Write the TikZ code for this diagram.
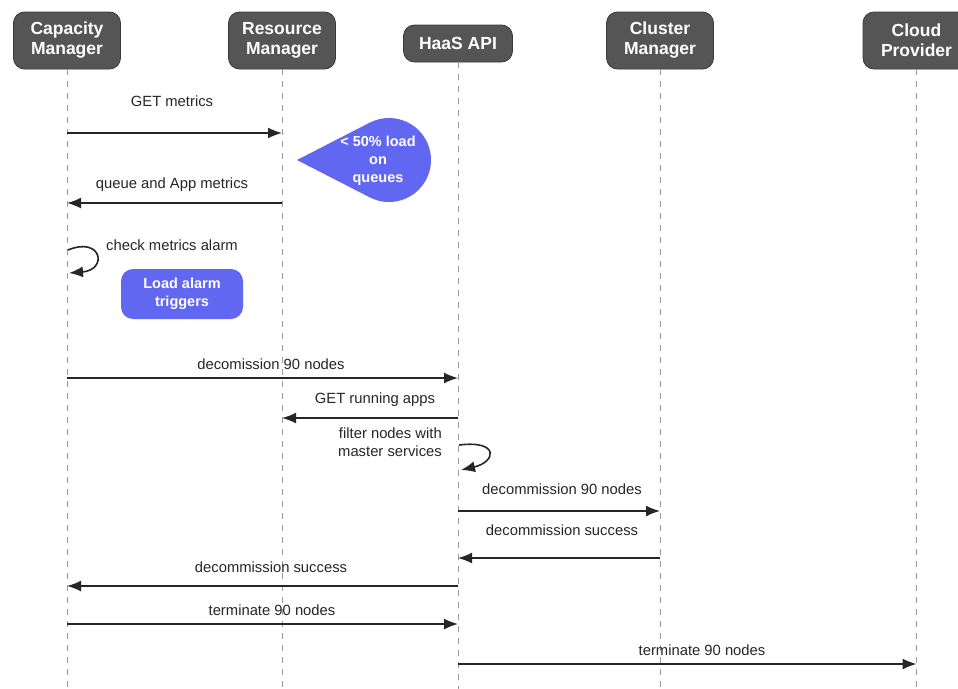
\documentclass[tikz,border=0pt]{standalone}
\usepackage{fontspec}
\setmainfont{Liberation Sans}
\usetikzlibrary{arrows.meta,calc}
\definecolor{hdr}{HTML}{555555}
\definecolor{hdrline}{HTML}{3A3A3A}
\definecolor{note}{HTML}{6267F1}
\definecolor{life}{HTML}{9A9A9A}
\definecolor{ink}{HTML}{262626}
\begin{document}
\begin{tikzpicture}[x=1pt,y=-1pt,
  actor/.style={draw=hdrline, line width=0.8pt, fill=hdr, rounded corners=11pt,
    text=white, align=center, inner sep=0pt,
    font=\fontsize{17.5}{20}\selectfont\bfseries},
  lifeline/.style={draw=life, line width=1pt, dash pattern=on 6pt off 6pt},
  msg/.style={draw=ink, line width=1.6pt, -{Latex[length=14pt,width=11pt]}},
  lbl/.style={text=ink, inner sep=0pt, font=\fontsize{14.8}{18}\selectfont},
  notetext/.style={text=white, align=center, inner sep=0pt,
    font=\fontsize{14.5}{18}\selectfont\bfseries},
  notebox/.style={fill=note, rounded corners=12pt, minimum width=122pt,
    minimum height=50pt, notetext}
]
\useasboundingbox (0,0) rectangle (958,688);
\clip (0,0) rectangle (958,688);
\fill[white] (0,0) rectangle (958,688);

% participants
\node[actor, minimum width=107pt, minimum height=57pt] (cap) at (67,40.5) {Capacity\\Manager};
\node[actor, minimum width=107pt, minimum height=57pt] (res) at (282,40.5) {Resource\\Manager};
\node[actor, minimum width=109pt, minimum height=37pt] (haas) at (458,43.5) {HaaS API};
\node[actor, minimum width=107pt, minimum height=57pt] (clu) at (660,40.5) {Cluster\\Manager};
\node[actor, minimum width=107pt, minimum height=57pt] (clo) at (916.5,40.5) {Cloud\\Provider};

% lifelines
\coordinate (bottom) at (0,690);
\foreach \p in {cap,res,haas,clu,clo}
  \draw[lifeline] (\p.south) -- (\p.south |- bottom);

% message anchor points on the lifelines
\coordinate (c1) at (cap |- 0,133);  \coordinate (r1) at (res |- 0,133);
\coordinate (c2) at (cap |- 0,203);  \coordinate (r2) at (res |- 0,203);
\coordinate (c3a) at (68,250);       \coordinate (c3b) at (69,273);
\coordinate (c4) at (cap |- 0,378);  \coordinate (h4) at (haas |- 0,378);
\coordinate (h5) at (haas |- 0,418); \coordinate (r5) at (res |- 0,418);
\coordinate (h6a) at (459,445);      \coordinate (h6b) at (461,470);
\coordinate (h7) at (haas |- 0,511); \coordinate (u7) at (clu |- 0,511);
\coordinate (u8) at (clu |- 0,558);  \coordinate (h8) at (haas |- 0,558);
\coordinate (h9) at (haas |- 0,586); \coordinate (c9) at (cap |- 0,586);
\coordinate (c10) at (cap |- 0,624); \coordinate (h10) at (haas |- 0,624);
\coordinate (h11) at (haas |- 0,664); \coordinate (o11) at (clo |- 0,664);

% messages
\draw[msg] (c1) -- (r1);
\node[lbl] (l1) at (172,101) {GET metrics};
\draw[msg] (r2) -- (c2);
\node[lbl] (l2) at (172,185) {queue and App metrics};
\draw[msg] (c3a) .. controls (102,236) and (108,270) .. (c3b);
\node[lbl, anchor=west] (l3) at (106,245) {check metrics alarm};
\draw[msg] (c4) -- (h4);
\node[lbl] (l4) at (271,364) {decomission 90 nodes};
\draw[msg] (h5) -- (r5);
\node[lbl] (l5) at (375,400) {GET running apps};
\draw[msg] (h6a) .. controls (500,440) and (496,462) .. (h6b);
\node[lbl, anchor=east, align=right] (l6) at (442,442) {filter nodes with\\master services};
\draw[msg] (h7) -- (u7);
\node[lbl] (l7) at (562,489) {decommission 90 nodes};
\draw[msg] (u8) -- (h8);
\node[lbl] (l8) at (562,530) {decommission success};
\draw[msg] (h9) -- (c9);
\node[lbl] (l9) at (271,567) {decommission success};
\draw[msg] (c10) -- (h10);
\node[lbl] (l10) at (272,610) {terminate 90 nodes};
\draw[msg] (h11) -- (o11);
\node[lbl] (l11) at (702,650) {terminate 90 nodes};

% notes
\fill[note] (297,160) -- ($(389,160)+(117.5:42)$)
  arc[start angle=117.5, end angle=-117.5, radius=42] -- cycle;
\node[notetext] (bubble) at (378,161) {< 50\% load\\on\\queues};
\node[notebox] (alarm) at (182,294) {Load alarm\\triggers};
\end{tikzpicture}
\end{document}
